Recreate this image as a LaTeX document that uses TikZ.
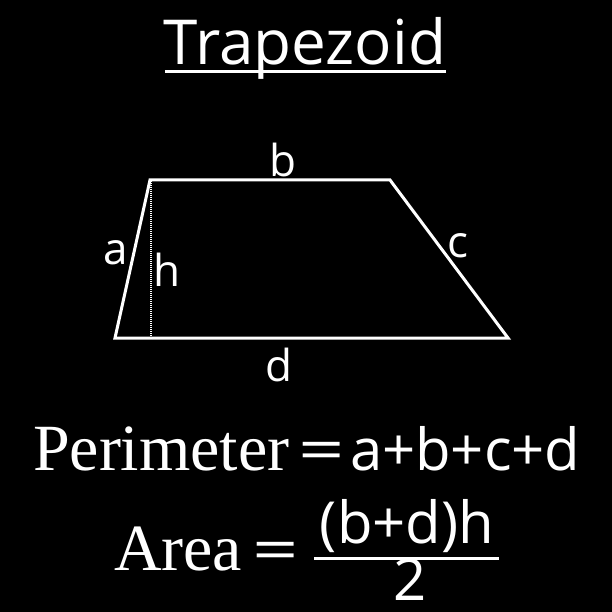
\documentclass[tikz,border=0pt]{standalone}
\usepackage{graphicx}
\usepackage{fontspec}
\newfontfamily\osans{Open Sans}
\newfontfamily\oserif{Liberation Serif}
\newcommand{\wideeq}{\scalebox{1.4}[1]{=}}
\begin{document}
\begin{tikzpicture}[x=1pt,y=-1pt,
  every node/.style={text=white,inner sep=0pt,outer sep=0pt},
  lbl/.style={font=\osans\fontsize{44}{44}\selectfont},
  big/.style={font=\osans\fontsize{58}{58}\selectfont},
  ser/.style={font=\oserif\fontsize{66}{66}\selectfont},
  edge/.style={draw=white,line width=3pt,line join=miter}]
\fill[black] (0,0) rectangle (612,612);
\useasboundingbox (0,0) rectangle (612,612);
% title
\node[font=\osans\fontsize{62}{62}\selectfont,anchor=base] (title) at (305,65) {Trapezoid};
\coordinate (ul1) at (165,72);
\coordinate (ul2) at (446,72);
\draw[white,line width=3pt] (ul1) -- (ul2);
% trapezoid
\coordinate (A) at (150,180);
\coordinate (B) at (390,180);
\coordinate (C) at (508,338);
\coordinate (D) at (115,338);
\draw[edge] (A) -- (B) -- (C) -- (D) -- cycle;
\coordinate (H) at (151,338);
\draw[white,line width=2pt,dash pattern=on 1pt off 1pt] (151,181) -- (H);
\node[lbl] (lb) at (283,160) {b};
\node[lbl] (la) at (116,253) {a};
\node[lbl] (lh) at (167,270) {h};
\node[lbl] (lc) at (458,246) {c};
\node[lbl] (ld) at (279,365) {d};
% perimeter
\node[ser,anchor=base west] (per) at (33,470) {Perimeter};
\node[big,anchor=base west] (pereq) at (298,470) {\wideeq};
\node[big,anchor=base west] (persum) at (350,470) {a+b+c+d};
% area
\node[ser,anchor=base west] (area) at (114,570) {Area};
\node[big,anchor=base west] (areq) at (252,570) {\wideeq};
\coordinate (f1) at (314,558);
\coordinate (f2) at (499,558);
\draw[white,line width=3pt] (f1) -- (f2);
\node[big,anchor=base] (num) at (407,543) {(b+d)h};
\node[big,anchor=base,text depth=0pt] (den) at (410,600) {2};
\end{tikzpicture}
\end{document}
